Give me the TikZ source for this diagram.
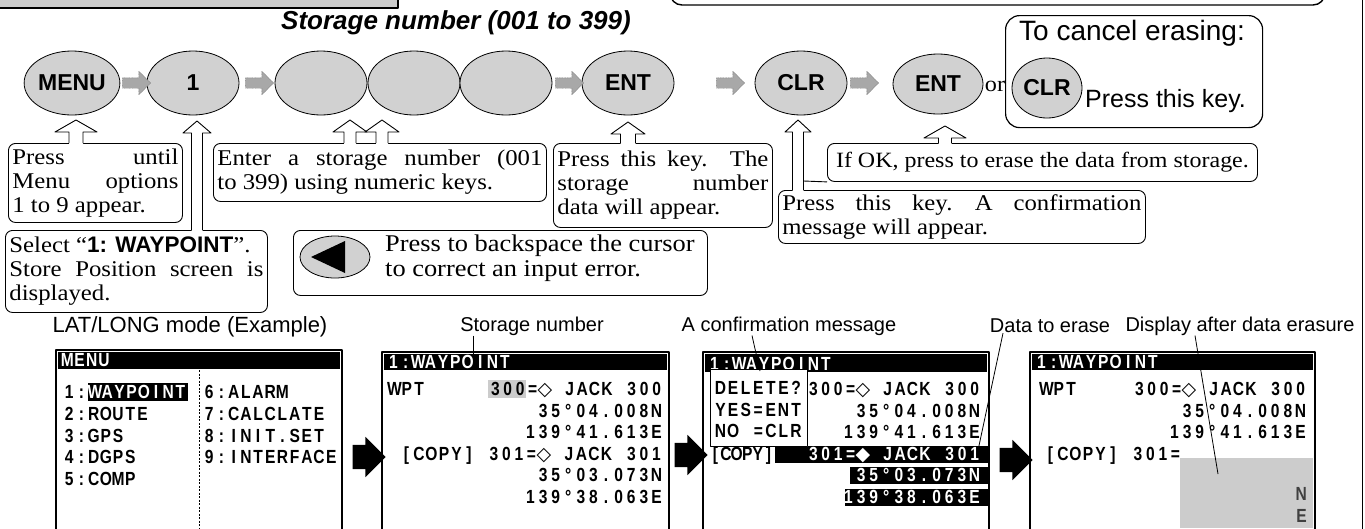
\documentclass[tikz,border=0pt]{standalone}
\usepackage{fontspec}
\usetikzlibrary{shapes.geometric,shapes.arrows}
\newfontfamily\serifw{Liberation Serif}[FakeStretch=1.1]
\newfontfamily\sansf{Liberation Sans}
\newfontfamily\lcdf{Liberation Sans}[FakeStretch=0.82]
\newfontfamily\djv{DejaVu Sans}
\definecolor{keygray}{gray}{0.82}
\definecolor{arrgray}{gray}{0.66}
\definecolor{dotgray}{gray}{0.80}
\newlength\lcdw
\def\lcdstop{\lcdstop}
\def\lcdloop#1{\ifx\lcdstop#1\else\hbox to\lcdw{\hss#1\hss}\expandafter\lcdloop\fi}
\newcommand\lcd[2]{\begingroup\setlength\lcdw{#1}\lcdloop#2\lcdstop\endgroup}
\newcommand\jl[2]{\makebox[#1][s]{#2}}
\newcommand\hollowup[5]{%
 \fill[white] ({#1-#5},{#3+1.2}) -- ({#1-#5},{#2+12}) -- ({#1-#4},{#2+12}) -- (#1,#2) -- ({#1+#4},{#2+12}) -- ({#1+#5},{#2+12}) -- ({#1+#5},{#3+1.2}) -- cycle;
 \draw[line width=0.9pt] ({#1-#5},#3) -- ({#1-#5},{#2+12}) -- ({#1-#4},{#2+12}) -- (#1,#2) -- ({#1+#4},{#2+12}) -- ({#1+#5},{#2+12}) -- ({#1+#5},#3);}
\begin{document}
\begin{tikzpicture}[x=1pt,y=-1pt,line join=round,
 key/.style={ellipse, draw, line width=0.8pt, fill=keygray, minimum width=92pt, minimum height=64pt, inner sep=0pt, font=\sansf\bfseries\fontsize{23}{23}\selectfont},
 garrow/.style={single arrow, draw=black!55, fill=arrgray, line width=0.4pt, dash pattern=on 1pt off 0.6pt, minimum height=28pt, text height=5pt, text depth=5pt, single arrow head extend=6.5pt, inner xsep=0pt, inner ysep=0pt},
 barrow/.style={single arrow, fill=black, minimum height=33pt, text height=12pt, text depth=12pt, single arrow head extend=8pt, inner xsep=0pt, inner ysep=0pt},
 cbox/.style={draw, rounded corners=7pt, line width=0.9pt, inner sep=4pt, anchor=north west, align=left, font=\serifw\fontsize{22.5}{24}\selectfont},
 lbl/.style={font=\sansf\fontsize{20}{20}\selectfont, inner sep=0pt},
 lcd/.style={font=\lcdf\bfseries\fontsize{19}{19}\selectfont, inner sep=0pt, text height=13.6pt, text depth=0pt},
 inv/.style={lcd, fill=black, text=white, inner ysep=1.8pt, inner xsep=1pt},
 scr/.style={draw, line width=1.3pt},
 lead/.style={line width=0.8pt}]
\useasboundingbox (0,0) rectangle (1365,528);
% page fragments
\fill[dotgray] (-2,-2) rectangle (398,8);
\draw[line width=1.5pt] (-2,8) -- (398,8) -- (398,-2);
\draw[line width=1.4pt, rounded corners=12pt] (670,-20) -- (670,5) -- (1325,5) -- (1325,-20);
\draw[line width=0.8pt] (1362,-2) -- (1362,530);
% title
\node[font=\sansf\bfseries\itshape\fontsize{26}{26}\selectfont, inner sep=0pt] (title) at (456,23) {Storage number (001 to 399)};
% keys
\node[key] (menu) at (72,83) {MENU};
\node[key] (k1) at (193,83) {1};
\node[key] (d1) at (321,83) {};
\node[key] (d2) at (414,83) {};
\node[key] (d3) at (506,83) {};
\node[key] (ent) at (628,83) {ENT};
\node[key] (clr) at (801,83) {CLR};
\node[key, minimum width=90pt, minimum height=60pt] (ent2) at (938,84) {ENT};
\node[font=\serifw\fontsize{22}{22}\selectfont, inner sep=0pt] (or) at (995,86) {or};
\node[garrow] (g1) at (134,83) {};
\node[garrow] (g2) at (257,83) {};
\node[garrow] (g3) at (567,83) {};
\node[garrow] (g4) at (728,83) {};
\node[garrow] (g5) at (862,83) {};
% cancel box
\node[draw, rounded corners=14pt, line width=1.2pt, minimum width=257pt, minimum height=112pt, anchor=north west, inner sep=0pt] (cancel) at (1005,15) {};
\node[anchor=north west, font=\sansf\fontsize{28}{28}\selectfont, inner sep=0pt] (cxt) at (1019,20) {To cancel erasing:};
\node[key, minimum width=70pt, minimum height=60pt] (clr2) at (1047,88) {CLR};
\node[font=\sansf\fontsize{25}{25}\selectfont, inner sep=0pt, anchor=west] (pk) at (1085,101) {Press this key.};
% callout boxes
\node[cbox, minimum width=174pt, minimum height=79pt] (bA) at (8,143) {\jl{166pt}{Press until}\\\jl{166pt}{Menu options}\\1 to 9 appear.};
\node[cbox, minimum width=333pt, minimum height=58pt] (bB) at (213,143) {\jl{325pt}{Enter a storage number (001}\\to 399) using numeric keys.};
\node[cbox, minimum width=219pt, minimum height=84pt] (bC) at (553,143) {\jl{211pt}{Press this key.\quad The}\\\jl{211pt}{storage number}\\data will appear.};
\node[cbox, minimum width=430pt, minimum height=38pt, font=\serifw\fontsize{21.8}{23}\selectfont] (bE) at (827,143) {If OK, press to erase the data from storage.};
\node[cbox, minimum width=367pt, minimum height=53pt] (bD) at (778,190) {\jl{359pt}{Press this key.\quad A confirmation}\\message will appear.};
\node[cbox, minimum width=262pt, minimum height=82pt] (bF) at (5,230) {Select “{\sansf\bfseries 1: WAYPOINT}”.\\\jl{254pt}{Store Position screen is}\\displayed.};
\node[cbox, minimum width=414pt, minimum height=65pt] (bG) at (293,230) {};
\node[ellipse, draw, line width=0.8pt, fill=keygray, minimum width=70pt, minimum height=42pt, inner sep=0pt] (bs) at (335,257) {};
\fill (311,257) -- (345,241) -- (345,273) -- cycle;
\node[anchor=west, align=left, font=\serifw\fontsize{24}{25}\selectfont, inner sep=0pt] (bGt) at (385,258) {Press to backspace the cursor\\to correct an input error.};
% hollow arrows
\hollowup{76}{120}{143}{21}{7}
\hollowup{197}{121}{230}{14}{5.5}
\hollowup{350}{120}{143}{17}{6}
\hollowup{382}{120}{143}{17}{6}
\hollowup{628}{122}{143}{17}{7.5}
\hollowup{798}{120}{190}{13}{5.5}
\draw[line width=0.9pt] (803.5,181) -- (bE.south west);
\hollowup{945}{126}{143}{21}{6.5}
% labels
\node[lbl, font=\sansf\fontsize{22}{22}\selectfont] (latlong) at (190,327) {LAT/LONG mode (Example)};
\node[lbl] (lsn) at (532,326) {Storage number};
\node[lbl] (lcm) at (789,326) {A confirmation message};
\node[lbl] (lde) at (1050,326) {Data to erase};
\node[lbl] (lda) at (1240,326) {Display after data erasure};
% ---------- screen 1
\draw[scr] (56,350) rectangle (342,540);
\fill (58,352) rectangle (340,369);
\node[lcd, text=white, anchor=west] (s1h) at (61,360) {\lcd{12.2pt}{MENU}};
\draw[line width=0.8pt, dash pattern=on 2pt off 1.5pt] (199,370) -- (199,530);
\node[lcd, anchor=west] (m1a) at (63,392) {\lcd{12.2pt}{1:}};
\node[inv, anchor=west] (m1b) at (m1a.east) {\lcd{12.2pt}{WAYPOINT}};
\node[lcd, anchor=west] (m2) at (63,414) {\lcd{12.2pt}{2:ROUTE}};
\node[lcd, anchor=west] (m3) at (63,436) {\lcd{12.2pt}{3:GPS}};
\node[lcd, anchor=west] (m4) at (63,457) {\lcd{12.2pt}{4:DGPS}};
\node[lcd, anchor=west] (m5) at (63,479) {\lcd{12.2pt}{5:COMP}};
\node[lcd, anchor=west] (m6) at (203,392) {\lcd{12.2pt}{6:ALARM}};
\node[lcd, anchor=west] (m7) at (203,414) {\lcd{12.2pt}{7:CALCLATE}};
\node[lcd, anchor=west] (m8) at (203,436) {\lcd{12.2pt}{8:INIT.SET}};
\node[lcd, anchor=west] (m9) at (203,457) {\lcd{12.2pt}{9:INTERFACE}};
\node[barrow] (ba1) at (363,457) {};
% ---------- screen 2
\draw[scr] (382,352) rectangle (669,540);
\fill (384,354) rectangle (667,370);
\node[lcd, text=white, anchor=west] (s2h) at (387,362) {\lcd{12.4pt}{1:WAYPOINT}};
\fill[dotgray] (488,380) rectangle (526,398);
\node[lcd, anchor=west] (s2w) at (388,389) {\lcd{12.4pt}{WPT}};
\node[lcd, anchor=east] (s2r1) at (663,389) {\lcd{12.4pt}{300={\djv ◇}~JACK~300}};
\node[lcd, anchor=east] (s2r2) at (663,411) {\lcd{12.6pt}{35°04.008N}};
\node[lcd, anchor=east] (s2r3) at (663,432) {\lcd{12.6pt}{139°41.613E}};
\node[lcd, anchor=east] (s2r4) at (663,454) {\lcd{12.5pt}{[COPY]~301={\djv ◇}~JACK~301}};
\node[lcd, anchor=east] (s2r5) at (663,475) {\lcd{12.6pt}{35°03.073N}};
\node[lcd, anchor=east] (s2r6) at (663,497) {\lcd{12.6pt}{139°38.063E}};
\coordinate (p1) at (473,356);
\draw[lead] (p1 |- lsn.south) -- (p1);
\node[barrow] (ba2) at (685,455) {};
% ---------- screen 3
\draw[scr] (703,352) rectangle (989,540);
\fill (705,354) rectangle (987,372);
\node[lcd, text=white, anchor=west] (s3h) at (708,364) {\lcd{12.4pt}{1:WAYPOINT}};
\node[lcd, anchor=east] (s3r1) at (981,389) {\lcd{12.4pt}{300={\djv ◇}~JACK~300}};
\node[lcd, anchor=east] (s3r2) at (981,411) {\lcd{12.6pt}{35°04.008N}};
\node[lcd, anchor=east] (s3r3) at (981,432) {\lcd{12.6pt}{139°41.613E}};
\node[lcd, anchor=west] (s3c) at (710,454) {\lcd{10.6pt}{[COPY]}};
\fill (775,446) rectangle (988,463);
\fill (850,467) rectangle (988,484);
\fill (845,489) rectangle (988,506);
\node[lcd, text=white, anchor=east] (s3r4) at (981,454) {\lcd{12.4pt}{301={\djv ◆}~JACK~301}};
\node[lcd, text=white, anchor=east] (s3r5) at (981,475) {\lcd{12.6pt}{35°03.073N}};
\node[lcd, text=white, anchor=east] (s3r6) at (981,497) {\lcd{12.6pt}{139°38.063E}};
\node[draw, fill=white, line width=1.2pt, anchor=north west, minimum width=97pt, minimum height=77pt, inner sep=0pt] (del) at (710,369) {};
\node[lcd, anchor=west] (dl1) at (714,388) {\lcd{12.6pt}{DELETE?}};
\node[lcd, anchor=west] (dl2) at (714,410) {\lcd{12.6pt}{YES=ENT}};
\node[lcd, anchor=west] (dl3) at (714,431) {\lcd{12.6pt}{NO~=CLR}};
\coordinate (p2) at (760,371);
\draw[lead] (lcm.south -| 752,0) -- (p2);
\coordinate (p3) at (977,455);
\draw[lead] ([xshift=-47pt]lde.south) -- (p3);
\node[barrow] (ba3) at (1010,460) {};
% ---------- screen 4
\draw[scr] (1030,352) rectangle (1315,540);
\fill (1032,354) rectangle (1313,370);
\node[lcd, text=white, anchor=west] (s4h) at (1035,362) {\lcd{12.4pt}{1:WAYPOINT}};
\node[lcd, anchor=west] (s4w) at (1040,389) {\lcd{12.4pt}{WPT}};
\node[lcd, anchor=east] (s4r1) at (1307,389) {\lcd{12.4pt}{300={\djv ◇}~JACK~300}};
\node[lcd, anchor=east] (s4r2) at (1307,411) {\lcd{12.6pt}{35°04.008N}};
\node[lcd, anchor=east] (s4r3) at (1307,432) {\lcd{12.6pt}{139°41.613E}};
\node[lcd, anchor=west] (s4r4) at (1044,454) {\lcd{12.5pt}{[COPY]~301=}};
\fill[dotgray] (1180,458) rectangle (1313,528);
\node[lcd, text=black!75, anchor=east] (s4n) at (1307,494) {N};
\node[lcd, text=black!75, anchor=east] (s4e) at (1307,516) {E};
\coordinate (p4) at (1218,474);
\draw[lead] ([xshift=-45pt]lda.south) -- (p4);
\end{tikzpicture}
\end{document}
